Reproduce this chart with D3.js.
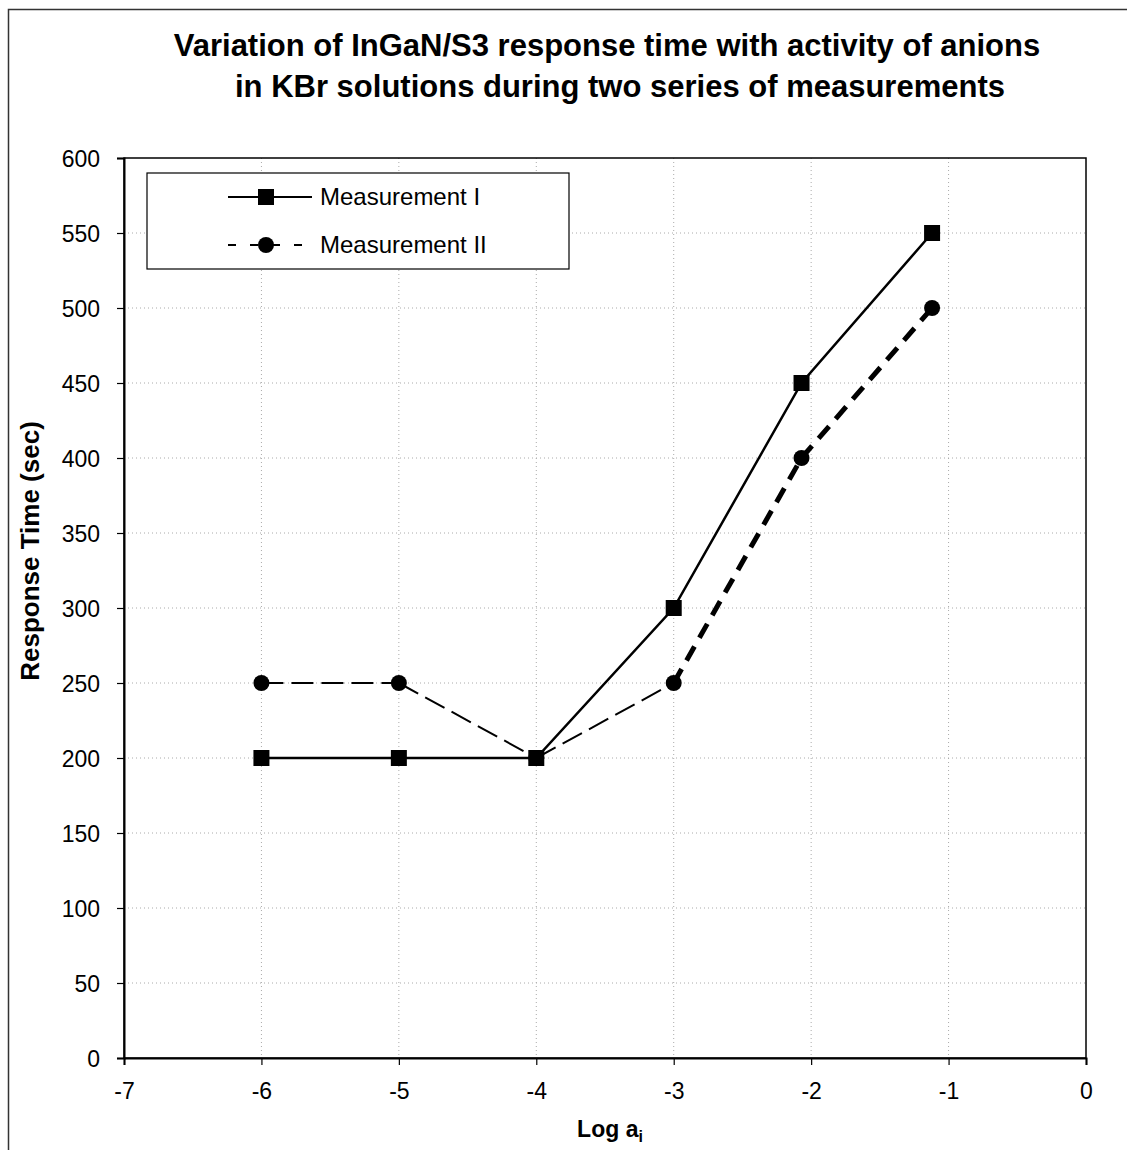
<!DOCTYPE html>
<html>
<head>
<meta charset="utf-8">
<script src="https://cdn.jsdelivr.net/npm/d3@7"></script>
<style>
body { margin: 0; background: #fff; }
text { font-family: "Liberation Sans", Arial, sans-serif; fill: #000; }
</style>
</head>
<body>
<div id="chart"></div>
<script>
// response time vs log activity

var logA = [-6, -5, -4, -3, -2.07, -1.12];
var measI = [200, 200, 200, 300, 450, 550];
var measII = [250, 250, 200, 250, 400, 500];
var xTicks = [-7, -6, -5, -4, -3, -2, -1, 0];
var yTicks = [0, 50, 100, 150, 200, 250, 300, 350, 400, 450, 500, 550, 600];
var seriesNames = ['Measurement I', 'Measurement II'];

var W = 1127, H = 1150;
var pad = [158, 41, 92, 124]; // top right bottom left
var cw = W - pad[1] - pad[3], ch = H - pad[0] - pad[2];

var svg = d3.select('#chart').append('svg').attr('width', W).attr('height', H);

// outer frame (runs off right/bottom)
svg.append('path').attr('d', 'M8.5,1150 V9.5 H1127')
	.attr('fill', 'none').attr('stroke', '#333').attr('stroke-width', 1.5);

var x = d3.scaleLinear().domain([-7, 0]).range([0, cw]);
var y = d3.scaleLinear().domain([0, 600]).range([ch, 0]);

var g = svg.append('g').attr('transform', 'translate(' + pad[3] + ',' + pad[0] + ')');

// grid
g.selectAll('line.gx').data(xTicks.slice(1, -1)).enter().append('line')
	.attr('x1', function (d) {return x(d);}).attr('x2', function (d) {return x(d);})
	.attr('y1', 0).attr('y2', ch)
	.attr('stroke', '#aaa').attr('stroke-width', 1).attr('stroke-dasharray', '1,3');
g.selectAll('line.gy').data(yTicks.slice(1, -1)).enter().append('line')
	.attr('y1', function (d) {return y(d);}).attr('y2', function (d) {return y(d);})
	.attr('x1', 0).attr('x2', cw)
	.attr('stroke', '#aaa').attr('stroke-width', 1).attr('stroke-dasharray', '1,3');

// plot frame
g.append('rect').attr('width', cw).attr('height', ch)
	.attr('fill', 'none').attr('stroke', '#000').attr('stroke-width', 1.5);

// axes
var xAxis = d3.axisBottom(x).tickValues(xTicks).tickSize(7).tickPadding(18)
	.tickFormat(function (d) {return d;});
var yAxis = d3.axisLeft(y).tickValues(yTicks).tickSize(7).tickPadding(17);

var gx = g.append('g').attr('transform', 'translate(0,' + ch + ')').call(xAxis);
var gy = g.append('g').call(yAxis);
[gx, gy].forEach(function (a) {
	a.select('.domain').attr('stroke', '#000').attr('stroke-width', 2);
	a.selectAll('.tick line').attr('stroke', '#000').attr('stroke-width', 1.2);
	a.selectAll('.tick text').style('font-size', '23px').attr('fill', '#000');
});
gy.selectAll('.tick text').attr('dy', '0.35em');

// series I: solid
var line = d3.line().x(function (d) {return x(d[0]);}).y(function (d) {return y(d[1]);});
var ptsI = logA.map(function (v, i) {return [v, measI[i]];});
var ptsII = logA.map(function (v, i) {return [v, measII[i]];});

g.append('path').datum(ptsI).attr('d', line)
	.attr('fill', 'none').attr('stroke', '#000').attr('stroke-width', 2.5);

// series II: dashed, heavier after the fourth point
var segs = d3.pairs(ptsII);
g.selectAll('path.seg2').data(segs).enter().append('path')
	.attr('d', function (d) {return line(d);})
	.attr('fill', 'none').attr('stroke', '#000')
	.attr('stroke-width', function (d, i) {return i < 3 ? 2 : 5;})
	.attr('stroke-dasharray', function (d, i) {return i < 3 ? '22,8' : '16,10';});

g.selectAll('rect.mI').data(ptsI).enter().append('rect')
	.attr('x', function (d) {return x(d[0]) - 8;}).attr('y', function (d) {return y(d[1]) - 8;})
	.attr('width', 16).attr('height', 16).attr('fill', '#000');
g.selectAll('circle.mII').data(ptsII).enter().append('circle')
	.attr('cx', function (d) {return x(d[0]);}).attr('cy', function (d) {return y(d[1]);})
	.attr('r', 8).attr('fill', '#000');

// legend
var lg = g.append('g').attr('transform', 'translate(23,15)');
lg.append('rect').attr('width', 422).attr('height', 96)
	.attr('fill', '#fff').attr('stroke', '#000').attr('stroke-width', 1.2);
lg.append('line').attr('x1', 81).attr('x2', 165).attr('y1', 24).attr('y2', 24)
	.attr('stroke', '#000').attr('stroke-width', 2);
lg.append('rect').attr('x', 111).attr('y', 16).attr('width', 16).attr('height', 16).attr('fill', '#000');
lg.append('line').attr('x1', 81).attr('x2', 165).attr('y1', 72).attr('y2', 72)
	.attr('stroke', '#000').attr('stroke-width', 2).attr('stroke-dasharray', '8,14');
lg.append('circle').attr('cx', 119).attr('cy', 72).attr('r', 8).attr('fill', '#000');
lg.selectAll('text').data(seriesNames).enter().append('text')
	.attr('x', 173).attr('y', function (d, i) {return 24 + i * 48;}).attr('dy', '0.35em')
	.style('font-size', '24px').text(function (d) {return d;});

// titles
svg.append('text').attr('x', 607).attr('y', 56).attr('text-anchor', 'middle')
	.style('font-size', '31px').style('font-weight', 'bold')
	.text('Variation of InGaN/S3 response time with activity of anions');
svg.append('text').attr('x', 620).attr('y', 97).attr('text-anchor', 'middle')
	.style('font-size', '31px').style('font-weight', 'bold')
	.text('in KBr solutions during two series of measurements');

var xt = svg.append('text').attr('x', 610).attr('y', 1137).attr('text-anchor', 'middle')
	.style('font-size', '23px').style('font-weight', 'bold');
xt.append('tspan').text('Log a');
xt.append('tspan').attr('dy', 5).style('font-size', '16px').text('i');

svg.append('text').attr('transform', 'translate(39,551) rotate(-90)')
	.attr('text-anchor', 'middle')
	.style('font-size', '26px').style('font-weight', 'bold')
	.text('Response Time (sec)');
</script>
</body>
</html>
